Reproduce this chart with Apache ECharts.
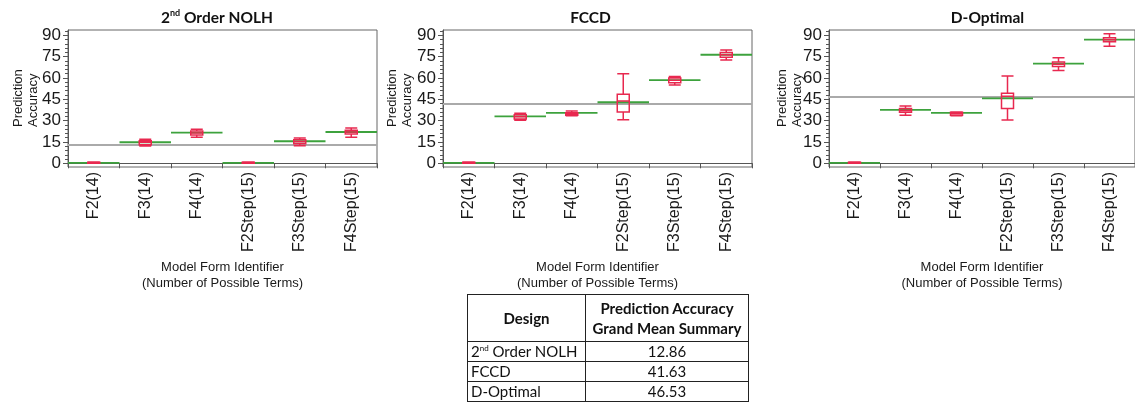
<!DOCTYPE html>
<html>
<head>
<meta charset="utf-8">
<script src="https://cdn.jsdelivr.net/npm/echarts@6/dist/echarts.min.js"></script>
<style>
  html, body { margin: 0; padding: 0; background: #fff; }
  #chart { position: absolute; left: 0; top: 0; width: 1135px; height: 403px; }
  #summary { position: absolute; left: 467px; top: 294px; border-collapse: collapse;
    font-family: Lato, 'Open Sans', sans-serif; font-size: 15px; color: #111; }
  #summary td, #summary th { border: 1px solid #222; padding: 0 3px; }
  #summary th { font-weight: bold; height: 46px; line-height: 20px; }
  #summary td { height: 19px; line-height: 19px; }
  #summary td.v { text-align: center; }
  #summary sup { font-size: 8px; vertical-align: 6px; line-height: 0; }
</style>
</head>
<body>
<div id="chart"></div>
<table id="summary">
  <tr><th style="width:111px">Design</th><th style="width:156px">Prediction Accuracy<br>Grand Mean Summary</th></tr>
  <tr><td>2<sup>nd</sup> Order NOLH</td><td class="v">12.86</td></tr>
  <tr><td>FCCD</td><td class="v">41.63</td></tr>
  <tr><td>D-Optimal</td><td class="v">46.53</td></tr>
</table>
<script>
// ---------- data ----------
const categories = ['F2(14)', 'F3(14)', 'F4(14)', 'F2Step(15)', 'F3Step(15)', 'F4Step(15)'];
const designTitles = ['{b|2}{s|nd}{b| Order NOLH}', '{b|FCCD}', '{b|D-Optimal}'];
const yAxisName = 'Prediction\nAccuracy';
const xAxisName = 'Model Form Identifier\n(Number of Possible Terms)';

// mean per model form (green lines)
const nolhMeans = [0.3, 14.8, 21.5, 0.3, 15.5, 22.0];
const fccdMeans = [0.3, 33.0, 35.4, 42.9, 58.5, 76.3];
const doptMeans = [0.3, 37.5, 35.4, 45.7, 70.0, 86.9];

// box plot stats [min, Q1, median, Q3, max]
const nolhBoxes = [
  [0, 0, 0.3, 0.8, 1],
  [12.2, 13.1, 14.8, 15.9, 16.9],
  [18.3, 19.9, 21.3, 22.7, 23.9],
  [0, 0, 0.3, 0.8, 1],
  [12.4, 13.8, 15.2, 16.6, 17.8],
  [18.3, 20.6, 22.0, 23.2, 24.8]
];
const fccdBoxes = [
  [0, 0, 0.3, 0.8, 1],
  [30.2, 31.1, 32.8, 34.2, 35.1],
  [33.5, 33.7, 34.7, 35.6, 36.8],
  [30.7, 36.1, 43.8, 48.5, 63.0],
  [55.0, 56.7, 58.3, 60.0, 61.1],
  [72.6, 74.5, 76.3, 77.8, 79.6]
];
const doptBoxes = [
  [0, 0, 0.3, 0.8, 1],
  [33.7, 35.8, 37.2, 38.6, 40.3],
  [33.5, 33.8, 35.0, 35.8, 36.1],
  [30.4, 38.6, 47.1, 49.2, 61.4],
  [65.3, 68.1, 69.6, 71.2, 74.2],
  [82.2, 85.5, 86.9, 88.3, 91.1]
];
const grandMeans = [12.86, 41.63, 46.53];

const yTickValues = [0, 15, 30, 45, 60, 75, 90];
const yMinorTickValues = [3, 6, 9, 12, 18, 21, 24, 27, 33, 36, 39, 42, 48, 51, 54, 57, 63, 66, 69, 72, 78, 81, 84, 87, 93];

// ---------- layout ----------
const gridLefts = [68, 443, 829];
const titleCenters = [212, 585.5, 982.5];
const yNameX = [25.5, 400, 789.5];
const GRID_TOP = 30, GRID_W = 309, GRID_H = 137;
const Y_MIN = -2.6, Y_MAX = 93.7;

const meansList = [nolhMeans, fccdMeans, doptMeans];
const boxesList = [nolhBoxes, fccdBoxes, doptBoxes];

const AXIS_COLOR = '#555';
const TEXT_COLOR = '#1a1a1a';
const RED = '#e8284f';
const GREEN = '#3da23d';

const option = {
  animation: false,
  backgroundColor: '#fff',
  title: [], grid: [], xAxis: [], yAxis: [], series: [], graphic: []
};

for (let i = 0; i < 3; i++) {
  option.title.push({
    text: designTitles[i],
    left: titleCenters[i], top: 4, textAlign: 'center',
    textStyle: {
      rich: {
        b: { fontFamily: 'Lato', fontWeight: 'bold', fontSize: 15.5, color: '#111', lineHeight: 18 },
        s: { fontFamily: 'Lato', fontWeight: 'bold', fontSize: 9, color: '#111', verticalAlign: 'top', lineHeight: 9 }
      }
    }
  });
  option.grid.push({
    left: gridLefts[i], top: GRID_TOP, width: GRID_W, height: GRID_H,
    show: true, borderColor: '#666', borderWidth: 1, backgroundColor: 'transparent'
  });
  option.xAxis.push({
    type: 'category', gridIndex: i, data: categories, boundaryGap: true,
    axisLine: { show: true, lineStyle: { color: AXIS_COLOR, width: 1 } },
    axisTick: { show: true, length: 5, lineStyle: { color: AXIS_COLOR } },
    axisLabel: { rotate: 90, margin: 5, fontFamily: 'Liberation Sans', fontSize: 16, color: TEXT_COLOR },
    name: xAxisName,
    nameLocation: 'middle', nameGap: 92,
    nameTextStyle: { fontFamily: 'Liberation Sans', fontSize: 13, color: TEXT_COLOR, lineHeight: 16 },
    splitLine: { show: false }
  });
  // main y axis
  option.yAxis.push({
    type: 'value', gridIndex: i, min: Y_MIN, max: Y_MAX,
    axisLine: { show: true, lineStyle: { color: AXIS_COLOR, width: 1 } },
    axisTick: { show: true, length: 5, customValues: yTickValues, lineStyle: { color: AXIS_COLOR } },
    axisLabel: { customValues: yTickValues, margin: 7, fontFamily: 'Liberation Sans', fontSize: 17, color: TEXT_COLOR },
    splitLine: { show: false }
  });
  // minor-tick y axis
  option.yAxis.push({
    type: 'value', gridIndex: i, min: Y_MIN, max: Y_MAX, position: 'left',
    axisLine: { show: false },
    axisTick: { show: true, length: 3, customValues: yMinorTickValues, lineStyle: { color: AXIS_COLOR } },
    axisLabel: { show: false },
    splitLine: { show: false }
  });
  // y axis name (rotated, starting near the bottom)
  option.graphic.push({
    type: 'text', x: yNameX[i], y: 127, rotation: Math.PI / 2, silent: true,
    style: {
      text: yAxisName, fill: TEXT_COLOR,
      font: '13px "Liberation Sans"', lineHeight: 15,
      textAlign: 'left', textVerticalAlign: 'middle'
    }
  });

  // mean lines (green), full category width, plus grand mean line (gray)
  option.series.push({
    type: 'custom', xAxisIndex: i, yAxisIndex: i * 2, z: 2, silent: true,
    data: meansList[i].map((v, k) => [k, v]),
    renderItem: function (params, api) {
      const p = api.coord([api.value(0), api.value(1)]);
      const w = api.size([1, 0])[0];
      return {
        type: 'line',
        shape: { x1: p[0] - w / 2, y1: p[1], x2: p[0] + w / 2, y2: p[1] },
        style: { stroke: GREEN, lineWidth: 1.8 }
      };
    },
    markLine: {
      silent: true, symbol: 'none', z: 1,
      label: { show: false },
      lineStyle: { color: '#aaaaaa', width: 1.8, type: 'solid' },
      data: [{ yAxis: grandMeans[i] }]
    }
  });
  // box plots (red)
  option.series.push({
    type: 'boxplot', xAxisIndex: i, yAxisIndex: i * 2, z: 3, silent: true,
    boxWidth: [12, 12],
    itemStyle: { color: 'rgba(255,255,255,0)', borderColor: RED, borderWidth: 1.5 },
    data: boxesList[i]
  });
}

const chart = echarts.init(document.getElementById('chart'), null, { renderer: 'canvas' });
chart.setOption(option);
</script>
</body>
</html>
